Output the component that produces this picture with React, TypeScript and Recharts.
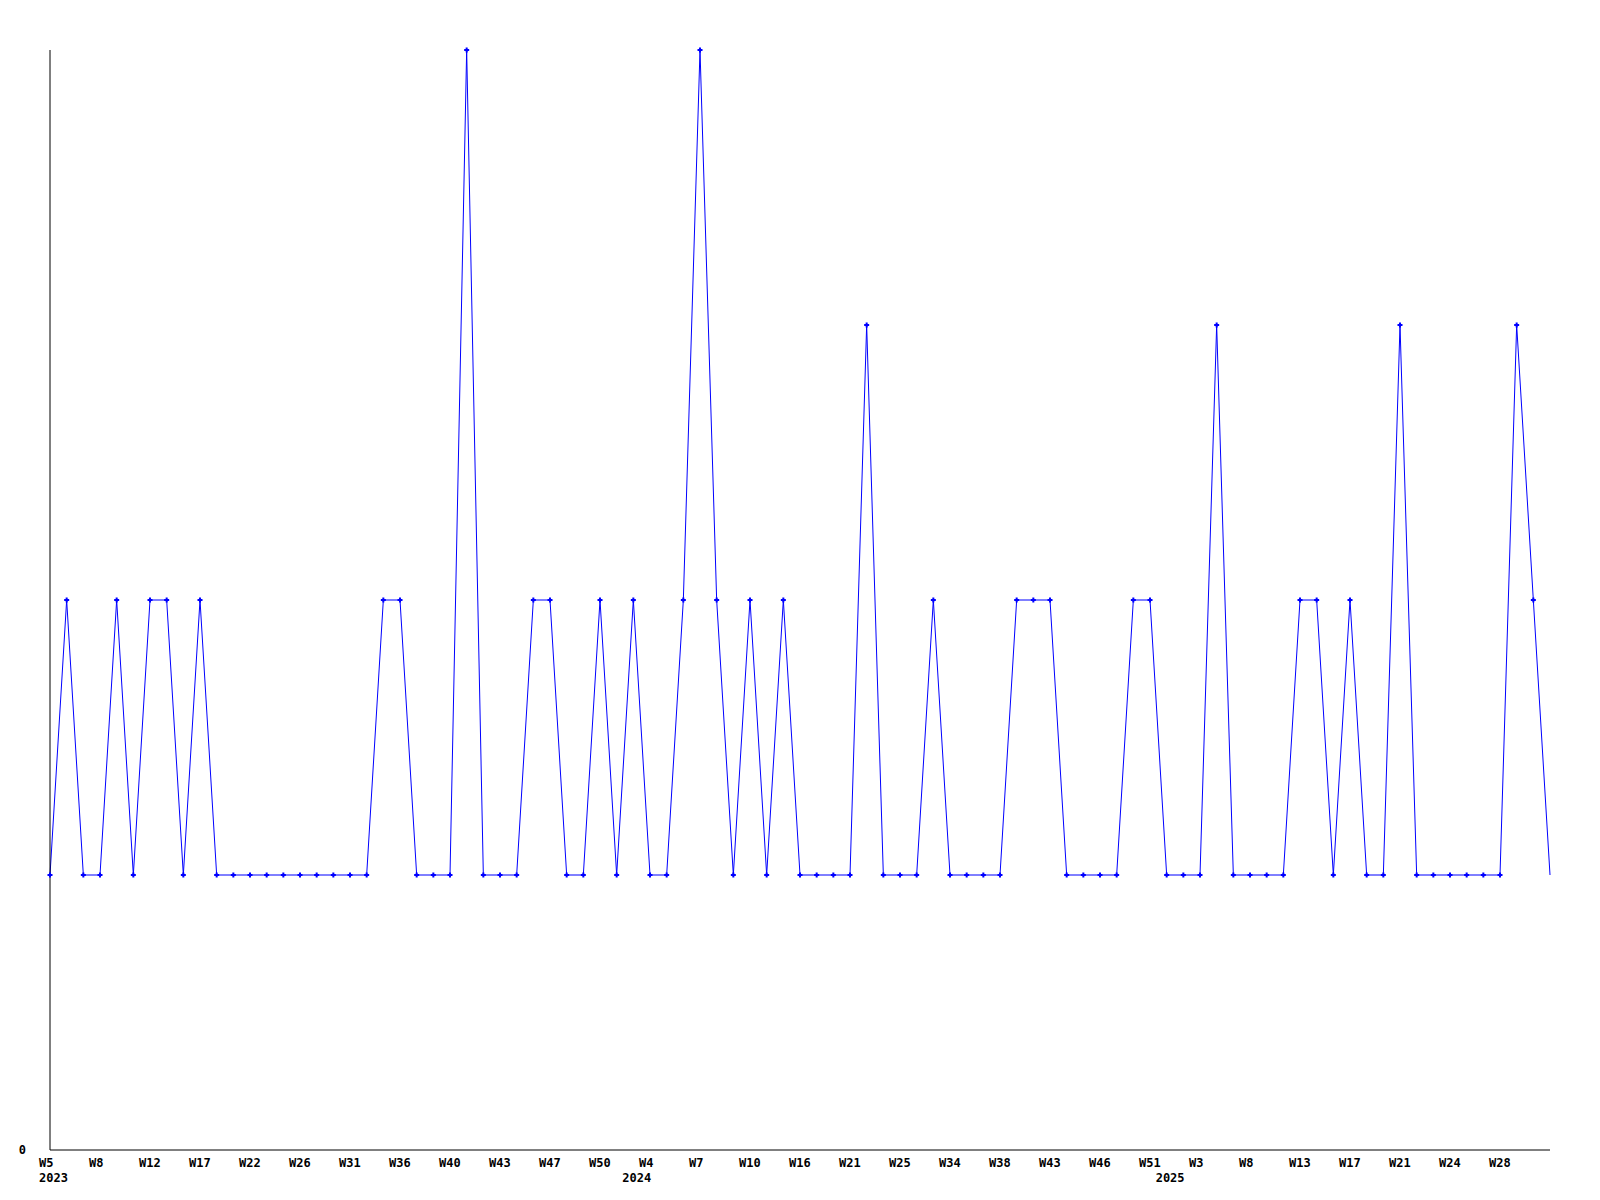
import React from "react";
import { LineChart, Line, XAxis, YAxis } from "recharts";

// Semanas mostradas (una por punto); sólo cada tercera aparece en el eje
const WEEKS = [
  "W5", "W6", "W7", "W8", "W9", "W10", "W12", "W14", "W15", "W17",
  "W19", "W20", "W22", "W23", "W25", "W26", "W28", "W29", "W31", "W33",
  "W35", "W36", "W37", "W38", "W40", "W41", "W42", "W43", "W44", "W45",
  "W47", "W48", "W49", "W50", "W51", "W2", "W4", "W5", "W6", "W7",
  "W8", "W9", "W10", "W12", "W14", "W16", "W18", "W20", "W21", "W22",
  "W23", "W25", "W28", "W31", "W34", "W35", "W36", "W38", "W40", "W41",
  "W43", "W44", "W45", "W46", "W48", "W49", "W51", "W1", "W2", "W3",
  "W5", "W6", "W8", "W10", "W11", "W13", "W15", "W16", "W17", "W18",
  "W20", "W21", "W22", "W23", "W24", "W26", "W27", "W28", "W29", "W30",
  "W31",
];

const YEARS = [
  ...Array(35).fill("2023"),
  ...Array(32).fill("2024"),
  ...Array(24).fill("2025"),
];

const VALUES = [
  1, 2, 1, 1, 2, 1, 2, 2, 1, 2,
  1, 1, 1, 1, 1, 1, 1, 1, 1, 1,
  2, 2, 1, 1, 1, 4, 1, 1, 1, 2,
  2, 1, 1, 2, 1, 2, 1, 1, 2, 4,
  2, 1, 2, 1, 2, 1, 1, 1, 1, 3,
  1, 1, 1, 2, 1, 1, 1, 1, 2, 2,
  2, 1, 1, 1, 1, 2, 2, 1, 1, 1,
  3, 1, 1, 1, 1, 2, 2, 1, 2, 1,
  1, 3, 1, 1, 1, 1, 1, 1, 3, 2,
  1,
];

const data = VALUES.map((v, i) => ({
  key: `${YEARS[i]}-${WEEKS[i]}`,
  week: WEEKS[i],
  year: YEARS[i],
  value: v,
}));

const FONT = "'DejaVu Sans Mono', monospace";

function WeekTick(props: any) {
  const { x, y, index } = props;
  const row = data[index];
  if (!row) return null;
  // la última semana (en curso) no lleva etiqueta
  const showWeek = index % 3 === 0 && index < data.length - 1;
  const showYear = index === 0 || data[index - 1].year !== row.year;
  return (
    <g>
      {showWeek && (
        <text x={x - 11} y={y + 17} fontFamily={FONT} fontSize={12} fontWeight="bold" fill="#000">
          {row.week}
        </text>
      )}
      {showYear && (
        <text x={x - 11} y={y + 32} fontFamily={FONT} fontSize={12} fontWeight="bold" fill="#000">
          {row.year}
        </text>
      )}
    </g>
  );
}

function PlusDot(props: any) {
  const { cx, cy, index } = props;
  if (index === data.length - 1 || cx == null) return <g key={index} />;
  return (
    <path
      key={index}
      d={`M${cx - 2.5},${cy}H${cx + 2.5}M${cx},${cy - 2.5}V${cy + 2.5}`}
      stroke="#0000ff"
      strokeWidth={2}
      fill="none"
    />
  );
}

export default function App() {
  return (
    <div style={{ position: "absolute", left: 0, top: 0, width: 1600, height: 1200, background: "#fff" }}>
      <LineChart
        width={1600}
        height={1200}
        data={data}
        margin={{ top: 50, right: 50, left: 0, bottom: 0 }}
      >
        <XAxis
          dataKey="key"
          height={50}
          interval={0}
          tickLine={false}
          tickSize={0}
          tickMargin={0}
          tick={<WeekTick />}
          axisLine={{ stroke: "#000", strokeWidth: 1 }}
        />
        <YAxis
          width={50}
          domain={[0, 4]}
          ticks={[0]}
          tickLine={false}
          tickSize={24}
          tickMargin={0}
          axisLine={{ stroke: "#000", strokeWidth: 1 }}
          tick={{ fontFamily: FONT, fontSize: 12, fontWeight: "bold", fill: "#000" }}
        />
        <Line
          type="linear"
          dataKey="value"
          stroke="#0000ff"
          strokeWidth={1}
          dot={<PlusDot />}
          activeDot={false}
          isAnimationActive={false}
        />
      </LineChart>
    </div>
  );
}
